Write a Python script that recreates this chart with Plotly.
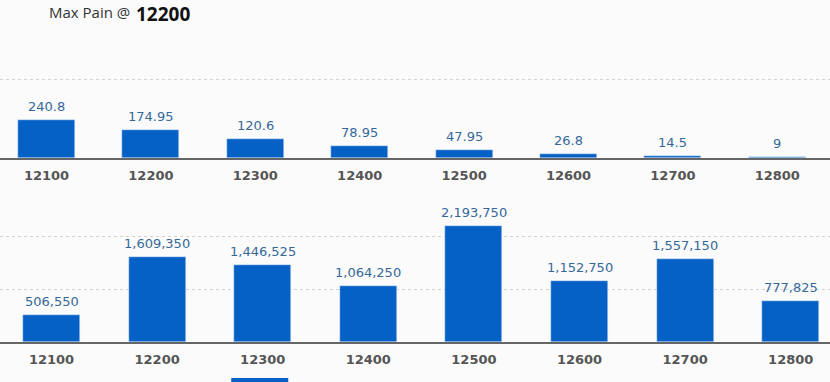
import plotly.graph_objects as go

strikes = ["12100", "12200", "12300", "12400", "12500", "12600", "12700", "12800"]
premium = [240.8, 174.95, 120.6, 78.95, 47.95, 26.8, 14.5, 9]
pain = [506550, 1609350, 1446525, 1064250, 2193750, 1152750, 1557150, 777825]
premium_labels = ["240.8", "174.95", "120.6", "78.95", "47.95", "26.8", "14.5", "9"]
max_pain_strike = "12200"
highlight_strike = "12300"

BAR = "#0561c6"
LBL = "#35689a"
W, H = 830, 382

fig = go.Figure()
fig.add_trace(go.Bar(x=list(range(len(strikes))), y=premium, marker_color=BAR,
                     width=0.546, xaxis="x", yaxis="y", hoverinfo="skip"))
fig.add_trace(go.Bar(x=list(range(len(strikes))), y=pain, marker_color=BAR,
                     width=0.54, xaxis="x2", yaxis="y2", hoverinfo="skip"))

annots = []
for i, (v, t) in enumerate(zip(premium, premium_labels)):
    annots.append(dict(x=i, y=v, xref="x", yref="y", text=t, showarrow=False,
                       yanchor="bottom", yshift=4,
                       font=dict(family="DejaVu Sans", size=13, color=LBL)))
for i, v in enumerate(pain):
    annots.append(dict(x=i, y=v, xref="x2", yref="y2", text=f"{v:,}", showarrow=False,
                       yanchor="bottom", yshift=4,
                       font=dict(family="DejaVu Sans", size=13, color=LBL)))
annots.append(dict(x=47 / W, y=1 - 12 / H, xref="paper", yref="paper", xanchor="left",
                   yanchor="middle", showarrow=False, text="Max Pain @",
                   font=dict(family="Open Sans", size=15, color="#333")))
annots.append(dict(x=135 / W, y=1, xref="paper", yref="paper", xanchor="left",
                   yanchor="top", showarrow=False, text=f"<b>{max_pain_strike}</b>",
                   borderpad=0, font=dict(family="Open Sans", size=19, color="#111")))

hi = strikes.index(highlight_strike)
shapes = [dict(type="rect", xref="x2", yref="paper", x0=hi - 0.298, x1=hi + 0.242,
               y0=0, y1=4 / H, fillcolor=BAR, line=dict(width=0))]

axis_x = dict(tickmode="array", tickvals=list(range(len(strikes))), ticktext=strikes,
              showline=True, linecolor="#666", linewidth=2, showgrid=False, zeroline=False,
              ticks="", ticklabelstandoff=4,
              tickfont=dict(family="DejaVu Sans", size=13, color="#555", weight="bold"))
axis_y = dict(showline=False, zeroline=False, showticklabels=False, showgrid=True,
              gridcolor="#d2d2d2", griddash="dot", gridwidth=1, tickmode="array")

fig.update_layout(
    width=W, height=H, margin=dict(l=0, r=0, t=0, b=0),
    paper_bgcolor="#fbfbfb", plot_bgcolor="#fbfbfb", showlegend=False,
    xaxis=dict(axis_x, domain=[0, 1], anchor="y", range=[-0.4454, 7.5048], fixedrange=True),
    yaxis=dict(axis_y, domain=[1 - 158 / H, 1], range=[0, 1000], tickvals=[500], fixedrange=True),
    xaxis2=dict(axis_x, domain=[0, 1], anchor="y2", range=[-0.4877, 7.3722], fixedrange=True),
    yaxis2=dict(axis_y, domain=[1 - 342 / H, 1 - 183 / H], range=[0, 3000000],
                tickvals=[1000000, 2000000], fixedrange=True),
    annotations=annots, shapes=shapes, bargap=0,
)
fig.write_html("out.html", config={"displayModeBar": False},
               post_script="document.body.style.margin='0';document.body.style.overflow='hidden';")
